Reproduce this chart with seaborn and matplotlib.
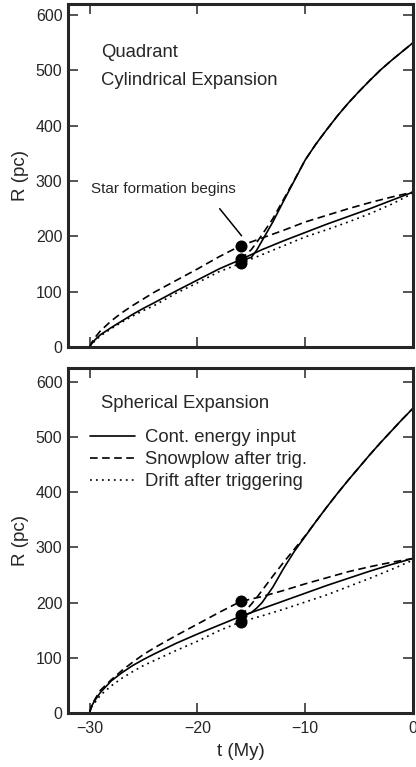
import matplotlib
matplotlib.use("Agg")
import matplotlib.pyplot as plt
import pandas as pd
import seaborn as sns

# ---------------- data ----------------
t_low = [-30, -29.8, -29.5, -29, -28, -27, -26, -25, -24, -22, -20, -18, -16,
         -14, -12, -10, -8, -6, -4, -2, 0]
cyl_cont_low = [0, 6, 13, 22, 35, 47, 59, 70, 80, 101, 121, 141, 158,
                176, 192, 207, 222, 236, 250, 265, 280]
cyl_snow_low = [0, 8, 17, 29, 47, 62, 75, 87, 99, 120, 141, 163, 183,
                197, 211, 226, 238, 250, 261, 271, 280]
cyl_drift_low = [0, 5, 11, 20, 33, 45, 56, 66, 75, 97, 116, 136, 151,
                 167, 183, 199, 212, 226, 241, 258, 278]
sph_cont_low = [0, 13, 23, 37, 58, 73, 86, 97, 107, 126, 143, 159, 175,
                189, 203, 217, 231, 244, 257, 269, 280]
sph_snow_low = [0, 14, 25, 41, 60, 77, 92, 106, 118, 140, 161, 182, 202,
                211, 222, 234, 245, 256, 265, 273, 280]
sph_drift_low = [0, 11, 19, 32, 49, 63, 75, 86, 95, 113, 130, 149, 165,
                 176, 188, 201, 214, 229, 244, 260, 277]

t_high = [-16, -15.5, -15, -14.5, -14, -13, -12, -11, -10, -9, -8, -7, -6,
          -5, -4, -3, -2, -1, 0]
cyl_cont_high = [158, 159, 162, 175, 192, 226, 264, 301, 338, 367, 393, 418,
                 441, 462, 482, 501, 518, 534, 550]
cyl_snow_high = [158, 167, 176, 189, 203, 232, 267, 302, 338, 367, 393, 418,
                 441, 462, 482, 501, 518, 534, 550]
sph_cont_high = [176, 178, 182, 190, 200, 228, 262, 293, 320, 347, 373, 398,
                 422, 445, 468, 490, 511, 532, 552]
sph_snow_high = [176, 186, 197, 209, 222, 248, 273, 297, 321, 347, 373, 398,
                 422, 445, 468, 490, 511, 532, 552]

dot_t = [-16, -16, -16]
cyl_dots = [183, 159, 151]
sph_dots = [202, 177, 165]

legend_labels = ["Cont. energy input", "Snowplow after trig.", "Drift after triggering"]
x_ticks = [-30, -20, -10, 0]
y_ticks = [0, 100, 200, 300, 400, 500, 600]

# ---------------- style ----------------
sns.set_style("ticks")
plt.rcParams["font.family"] = ["Liberation Sans", "DejaVu Sans"]
plt.rcParams["lines.scale_dashes"] = False

DASH = (0, (5.5, 3.2))
DOT = (0, (1.3, 3.0))
LW = 1.2
TXT = 13.3

fig = plt.figure(figsize=(4.16, 7.67), dpi=100)
ax_top = fig.add_axes([68 / 416, 1 - 347 / 767, 345 / 416, 343 / 767])
ax_bot = fig.add_axes([68 / 416, 1 - 713 / 767, 345 / 416, 345 / 767])


def draw_panel(ax, cont_low, snow_low, drift_low, cont_high, snow_high, dots):
    low = pd.DataFrame({"t": t_low, "cont": cont_low, "snow": snow_low, "drift": drift_low})
    high = pd.DataFrame({"t": t_high, "cont": cont_high, "snow": snow_high})
    sns.lineplot(data=low, x="t", y="cont", ax=ax, color="black", lw=LW,
                 estimator=None, label=legend_labels[0])
    sns.lineplot(data=low, x="t", y="snow", ax=ax, color="black", lw=LW,
                 linestyle=DASH, estimator=None, label=legend_labels[1])
    sns.lineplot(data=low, x="t", y="drift", ax=ax, color="black", lw=LW,
                 linestyle=DOT, estimator=None, label=legend_labels[2])
    sns.lineplot(data=high, x="t", y="cont", ax=ax, color="black", lw=LW,
                 estimator=None)
    sns.lineplot(data=high, x="t", y="snow", ax=ax, color="black", lw=LW,
                 linestyle=DASH, estimator=None)
    sns.scatterplot(x=dot_t, y=dots, ax=ax, color="black", s=75,
                    edgecolor="black", linewidth=0, zorder=5)
    ax.set_xlim(-32, 0)
    ax.set_xticks(x_ticks)
    ax.set_yticks(y_ticks)
    ax.tick_params(direction="in", length=7, width=1.1, top=True, right=True,
                   labelsize=11.5, pad=4)
    ax.tick_params(axis="x", pad=6)
    for sp in ax.spines.values():
        sp.set_linewidth(2.2)
    ax.set_ylabel("R (pc)", fontsize=13.5, labelpad=5)
    ax.set_xlabel("")


draw_panel(ax_top, cyl_cont_low, cyl_snow_low, cyl_drift_low,
           cyl_cont_high, cyl_snow_high, cyl_dots)
ax_top.set_ylim(0, 620)
ax_top.tick_params(axis="x", labelbottom=False)
ax_top.get_legend().remove()
ax_top.text(-28.9, 524, "Quadrant", fontsize=TXT)
ax_top.text(-28.9, 474, "Cylindrical Expansion", fontsize=TXT)
ax_top.text(-29.9, 278, "Star formation begins", fontsize=11)
ax_top.annotate("", xy=(-15.9, 201), xytext=(-17.93, 250),
                arrowprops=dict(arrowstyle="-", lw=1.1, color="black",
                                shrinkA=0, shrinkB=0))

draw_panel(ax_bot, sph_cont_low, sph_snow_low, sph_drift_low,
           sph_cont_high, sph_snow_high, sph_dots)
ax_bot.set_ylim(0, 625)
ax_bot.set_xlabel("t (My)", fontsize=13.5, labelpad=5)
ax_bot.text(-28.9, 552, "Spherical Expansion", fontsize=TXT)
ax_bot.legend(loc="upper left", bbox_to_anchor=(0.064, 0.823), frameon=False,
              fontsize=TXT, handlelength=2.45, handletextpad=0.55,
              labelspacing=0.28, borderpad=0, borderaxespad=0)

fig.savefig("out.png", dpi=100)
